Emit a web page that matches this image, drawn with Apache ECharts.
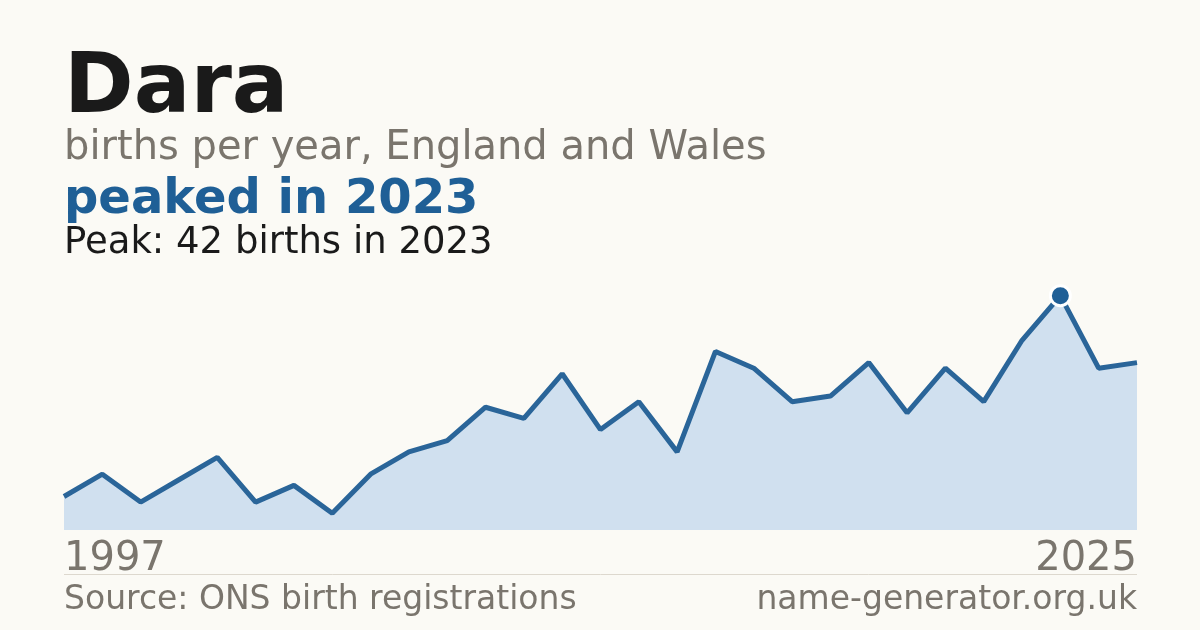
<!DOCTYPE html>
<html lang="en">
<head>
    <meta charset="UTF-8">
    <title>Dara</title>
    <script src="https://cdn.jsdelivr.net/npm/echarts@6/dist/echarts.min.js"></script>
    <style>
        html, body { margin: 0; padding: 0; background: #fbfaf5; }
        #chart { width: 1200px; height: 630px; }
    </style>
</head>
<body>
    <div id="chart"></div>
    <script>
        // births per year, 1997 - 2025
        var years = ['1997', '1998', '1999', '2000', '2001', '2002', '2003', '2004', '2005', '2006',
            '2007', '2008', '2009', '2010', '2011', '2012', '2013', '2014', '2015', '2016',
            '2017', '2018', '2019', '2020', '2021', '2022', '2023', '2024', '2025'];
        var births = [6, 10, 5, 9, 13, 5, 8, 3, 10, 14,
            16, 22, 20, 28, 18, 23, 14, 32, 29, 23,
            24, 30, 21, 29, 23, 34, 42, 29, 30];
        var peakYear = '2023';
        var peakValue = 42;

        var font = 'DejaVu Sans';
        var chart = echarts.init(document.getElementById('chart'));

        var option = {
            backgroundColor: '#fbfaf5',
            animation: false,
            grid: { left: 64, right: 63, top: 251, bottom: 100 },
            xAxis: {
                type: 'category',
                data: years,
                boundaryGap: false,
                axisLine: { show: false },
                axisTick: { show: false },
                splitLine: { show: false },
                axisLabel: {
                    interval: function (i) { return i === 0 || i === years.length - 1; },
                    alignMinLabel: 'left',
                    alignMaxLabel: 'right',
                    margin: 10,
                    fontFamily: font,
                    fontSize: 40,
                    color: '#7a756d'
                }
            },
            yAxis: {
                type: 'value',
                min: 0,
                max: 50,
                show: false
            },
            series: [
                {
                    type: 'line',
                    data: births,
                    symbol: 'none',
                    lineStyle: { color: '#2a6599', width: 5 },
                    areaStyle: { color: '#d0e0ef', opacity: 1 },
                    z: 2
                },
                {
                    type: 'scatter',
                    data: [[peakYear, peakValue]],
                    symbol: 'circle',
                    symbolSize: 20,
                    itemStyle: { color: '#1f5f96', opacity: 1, borderColor: '#ffffff', borderWidth: 3 },
                    z: 3
                }
            ],
            graphic: [
                {
                    type: 'text', left: 64, top: 48,
                    style: { text: 'Dara', font: 'bold 84px "DejaVu Sans"', fill: '#1a1a1a' }
                },
                {
                    type: 'text', left: 64, top: 129,
                    style: { text: 'births per year, England and Wales', font: '40px "DejaVu Sans"', fill: '#7a756d' }
                },
                {
                    type: 'text', left: 64, top: 177,
                    style: { text: 'peaked in ' + peakYear, font: 'bold 48px "DejaVu Sans"', fill: '#1f5f96' }
                },
                {
                    type: 'text', left: 64, top: 225,
                    style: { text: 'Peak: ' + peakValue + ' births in ' + peakYear, font: '37px "DejaVu Sans"', fill: '#1a1a1a' }
                },
                {
                    type: 'line',
                    shape: { x1: 64, y1: 574.5, x2: 1137, y2: 574.5 },
                    style: { stroke: '#ddd8ce', lineWidth: 1 }
                },
                {
                    type: 'text', left: 64, top: 584,
                    style: { text: 'Source: ONS birth registrations', font: '33px "DejaVu Sans"', fill: '#7a756d' }
                },
                {
                    type: 'text', right: 63, top: 584,
                    style: { text: 'name-generator.org.uk', font: '33px "DejaVu Sans"', fill: '#7a756d' }
                }
            ]
        };
        chart.setOption(option);
    </script>
</body>
</html>
